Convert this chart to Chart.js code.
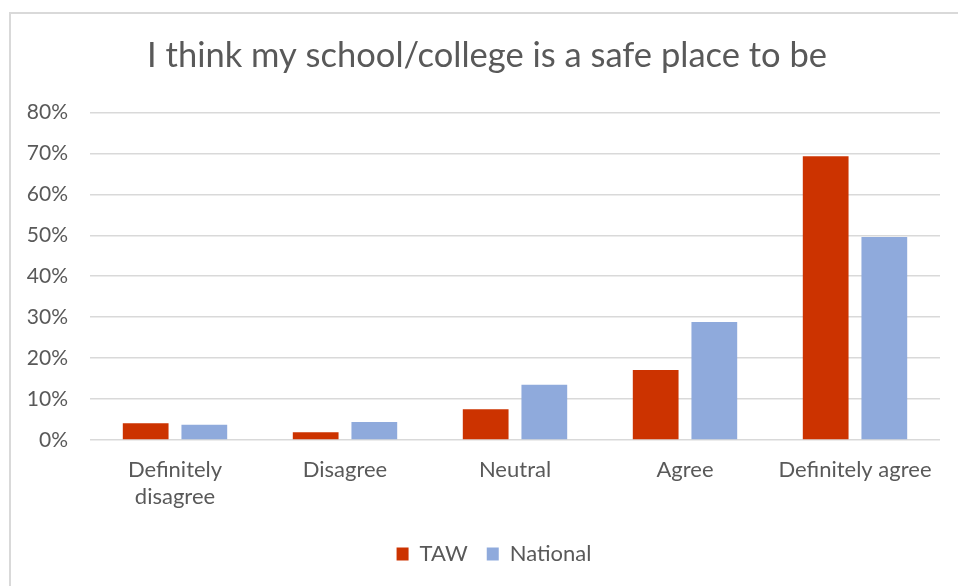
<!DOCTYPE html>
<html>
<head>
<meta charset="utf-8">
<script src="https://cdn.jsdelivr.net/npm/chart.js@4"></script>
<style>
  html, body { margin: 0; padding: 0; background: #fff; }
  #wrap { position: relative; width: 958px; height: 586px; overflow: hidden; }
  /* chart frame: only the top and left edges fall inside the window */
  #frame { position: absolute; left: 9px; top: 12px; width: 1000px; height: 600px;
           border-left: 2px solid #d9d9d9; border-top: 2px solid #d9d9d9; box-sizing: border-box; }
  canvas { position: absolute; left: 0; top: 0; }
</style>
</head>
<body>
<div id="wrap">
  <div id="frame"></div>
  <canvas id="c" width="958" height="586"></canvas>
</div>
<script>
const categories = [["Definitely", "disagree"], "Disagree", "Neutral", "Agree", "Definitely agree"];
const tawValues = [4.1, 1.9, 7.5, 17.1, 69.3];
const nationalValues = [3.7, 4.4, 13.5, 28.8, 49.6];
const yTicks = [0, 10, 20, 30, 40, 50, 60, 70, 80];

const TEXT = "#595959";
const FONT = "Lato, 'Open Sans', sans-serif";

// title and legend sit a little right of the canvas centre
const nudgeBoxes = {
  id: "nudgeBoxes",
  afterLayout(chart) {
    chart.legend.left += 14; chart.legend.right += 14;
    chart.titleBlock.left += 7; chart.titleBlock.right += 7;
  },
};

new Chart(document.getElementById("c"), {
  type: "bar",
  data: {
    labels: categories,
    datasets: [
      { label: "TAW", data: tawValues, backgroundColor: "#cc3300",
        categoryPercentage: 0.69, barPercentage: 0.78 },
      { label: "National", data: nationalValues, backgroundColor: "#8faadc",
        categoryPercentage: 0.69, barPercentage: 0.78 },
    ],
  },
  plugins: [nudgeBoxes],
  options: {
    responsive: false, animation: false,
    layout: { padding: { left: 20, right: 18, top: 20, bottom: 11 } },
    plugins: {
      title: { display: true, text: "I think my school/college is a safe place to be",
        color: TEXT, font: { family: FONT, size: 34.5, weight: "normal" },
        padding: { top: 15, bottom: 36 } },
      legend: { position: "bottom",
        labels: { color: TEXT, font: { family: FONT, size: 22 }, boxWidth: 12, boxHeight: 13,
          padding: 19 } },
      tooltip: { enabled: false },
    },
    scales: {
      x: {
        grid: { display: false, drawTicks: false },
        border: { display: false },
        ticks: { color: TEXT, font: { family: FONT, size: 22 }, padding: 17, maxRotation: 0, autoSkip: false },
        afterFit(s) { s.height = 84; },
      },
      y: {
        min: 0, max: 80,
        afterBuildTicks(s) { s.ticks = yTicks.map(v => ({ value: v })); },
        grid: { color: "#d9d9d9", lineWidth: 1.5, drawTicks: false },
        border: { display: false },
        ticks: { color: TEXT, font: { family: FONT, size: 21 }, padding: 22, callback: v => v + "%" },
        afterFit(s) { s.width = 70; },
      },
    },
  },
});
</script>
</body>
</html>
